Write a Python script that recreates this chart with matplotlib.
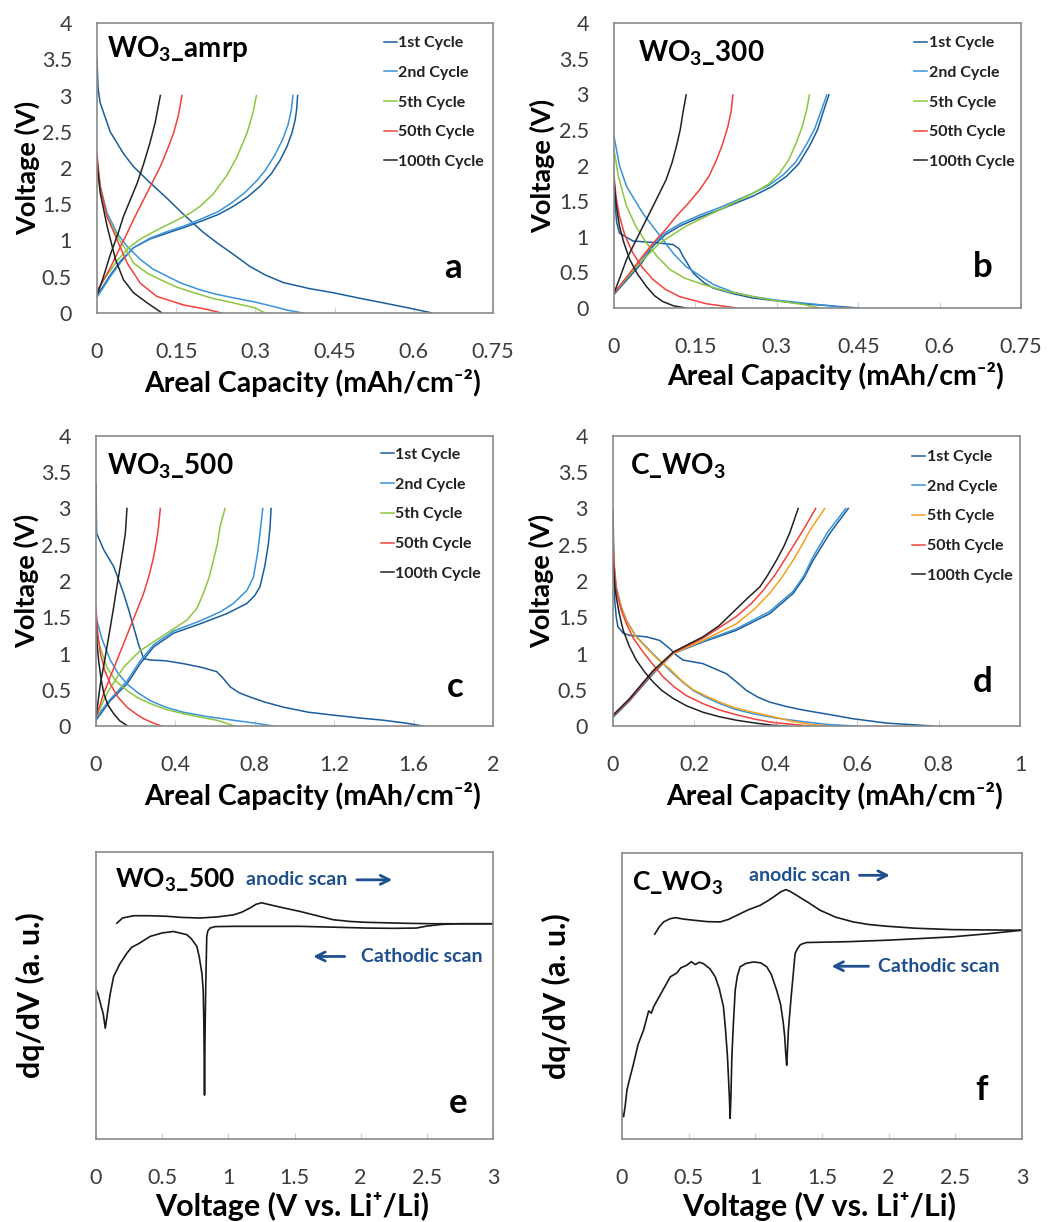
import matplotlib
matplotlib.use("Agg")
import matplotlib.pyplot as plt

plt.rcParams['font.family'] = ['Lato', 'DejaVu Sans']
plt.rcParams['mathtext.fontset'] = 'custom'
plt.rcParams['mathtext.rm'] = 'Lato'
plt.rcParams['mathtext.bf'] = 'Lato:bold'

# ---------------- data (capacity mAh/cm2, voltage V) ----------------
cycles = ["1st Cycle", "2nd Cycle", "5th Cycle", "50th Cycle", "100th Cycle"]
colors_abc = ["#1b5e9e", "#3b93d8", "#8dc63f", "#f0413c", "#222222"]
colors_d = ["#1b5e9e", "#3b93d8", "#f7a11a", "#f0413c", "#222222"]

# panel a: WO3_amrp
a_dis_1 = [(0, 3.5), (0.002, 3.1), (0.006, 2.9), (0.025, 2.5), (0.05, 2.2), (0.069, 2.02), (0.1, 1.8),
           (0.13, 1.6), (0.164, 1.36), (0.2, 1.12), (0.227, 0.97), (0.26, 0.8), (0.29, 0.64), (0.32, 0.52),
           (0.353, 0.42), (0.4, 0.34), (0.447, 0.28), (0.5, 0.2), (0.542, 0.14), (0.59, 0.07), (0.635, 0.0)]
a_ch_1 = [(0, 0.25), (0.01, 0.35), (0.025, 0.52), (0.045, 0.72), (0.069, 0.9), (0.1, 1.02), (0.132, 1.1),
          (0.165, 1.18), (0.195, 1.26), (0.23, 1.36), (0.258, 1.47), (0.285, 1.6), (0.309, 1.75), (0.33, 1.92),
          (0.347, 2.11), (0.36, 2.3), (0.369, 2.48), (0.375, 2.65), (0.378, 2.8), (0.38, 3.0)]
a_dis_2 = [(0, 2.1), (0.006, 1.75), (0.019, 1.38), (0.038, 1.1), (0.057, 0.92), (0.082, 0.74), (0.105, 0.61),
           (0.132, 0.51), (0.16, 0.41), (0.195, 0.32), (0.225, 0.26), (0.258, 0.21), (0.3, 0.15), (0.334, 0.09),
           (0.36, 0.04), (0.39, 0.0)]
a_ch_2 = [(0, 0.22), (0.01, 0.33), (0.025, 0.5), (0.045, 0.7), (0.069, 0.9), (0.1, 1.03), (0.132, 1.12),
          (0.165, 1.2), (0.195, 1.29), (0.23, 1.4), (0.255, 1.52), (0.28, 1.66), (0.302, 1.82), (0.32, 1.98),
          (0.337, 2.18), (0.352, 2.4), (0.362, 2.6), (0.368, 2.8), (0.371, 3.0)]
a_dis_5 = [(0, 2.07), (0.006, 1.7), (0.019, 1.33), (0.038, 1.06), (0.057, 0.85), (0.069, 0.69), (0.095, 0.55),
           (0.12, 0.46), (0.15, 0.36), (0.183, 0.28), (0.22, 0.2), (0.258, 0.14), (0.3, 0.07), (0.318, 0.0)]
a_ch_5 = [(0, 0.3), (0.015, 0.48), (0.038, 0.72), (0.06, 0.9), (0.082, 1.02), (0.115, 1.15), (0.151, 1.28),
          (0.175, 1.37), (0.195, 1.47), (0.22, 1.64), (0.246, 1.9), (0.265, 2.15), (0.284, 2.48), (0.295, 2.75),
          (0.302, 3.0)]
a_dis_50 = [(0, 2.2), (0.006, 1.75), (0.019, 1.33), (0.038, 1.01), (0.057, 0.69), (0.082, 0.41), (0.113, 0.23),
            (0.164, 0.11), (0.208, 0.05), (0.236, 0.0)]
a_ch_50 = [(0, 0.3), (0.012, 0.45), (0.025, 0.62), (0.04, 0.85), (0.057, 1.1), (0.072, 1.33), (0.088, 1.56),
           (0.104, 1.79), (0.12, 2.02), (0.133, 2.25), (0.145, 2.48), (0.154, 2.72), (0.161, 3.0)]
a_dis_100 = [(0, 2.07), (0.006, 1.66), (0.019, 1.2), (0.035, 0.74), (0.05, 0.46), (0.069, 0.28), (0.095, 0.14),
             (0.123, 0.0)]
a_ch_100 = [(0, 0.25), (0.01, 0.45), (0.025, 0.8), (0.04, 1.1), (0.05, 1.33), (0.063, 1.56), (0.076, 1.79),
            (0.088, 2.05), (0.1, 2.34), (0.11, 2.62), (0.12, 3.0)]

# panel b: WO3_300
b_dis_1 = [(0, 1.61), (0.005, 1.2), (0.01, 1.05), (0.035, 0.94), (0.072, 0.92), (0.109, 0.89), (0.12, 0.83),
           (0.127, 0.73), (0.146, 0.49), (0.165, 0.36), (0.183, 0.28), (0.22, 0.2), (0.256, 0.14), (0.3, 0.1),
           (0.348, 0.06), (0.4, 0.03), (0.45, 0.0)]
b_ch_1 = [(0, 0.19), (0.029, 0.44), (0.05, 0.62), (0.072, 0.87), (0.095, 1.03), (0.121, 1.15), (0.16, 1.28),
          (0.195, 1.38), (0.256, 1.57), (0.29, 1.7), (0.318, 1.85), (0.34, 2.02), (0.36, 2.27), (0.375, 2.5),
          (0.385, 2.74), (0.396, 2.99)]
b_dis_2 = [(0, 2.41), (0.01, 2.0), (0.023, 1.71), (0.053, 1.33), (0.09, 0.96), (0.11, 0.76), (0.133, 0.58),
           (0.183, 0.33), (0.22, 0.22), (0.256, 0.16), (0.3, 0.11), (0.348, 0.07), (0.4, 0.03), (0.43, 0.0)]
b_ch_2 = [(0, 0.2), (0.029, 0.47), (0.05, 0.66), (0.072, 0.9), (0.095, 1.06), (0.121, 1.18), (0.16, 1.31),
          (0.195, 1.41), (0.25, 1.59), (0.285, 1.72), (0.312, 1.87), (0.335, 2.05), (0.355, 2.3), (0.37, 2.52),
          (0.381, 2.75), (0.392, 2.99)]
b_dis_5 = [(0, 2.22), (0.008, 1.85), (0.023, 1.43), (0.04, 1.15), (0.06, 0.91), (0.08, 0.72), (0.103, 0.54),
           (0.13, 0.42), (0.164, 0.33), (0.21, 0.23), (0.256, 0.16), (0.3, 0.1), (0.348, 0.05), (0.38, 0.0)]
b_ch_5 = [(0, 0.21), (0.041, 0.58), (0.084, 0.91), (0.133, 1.15), (0.195, 1.38), (0.256, 1.61), (0.285, 1.74),
          (0.305, 1.89), (0.322, 2.08), (0.336, 2.32), (0.347, 2.55), (0.355, 2.78), (0.36, 2.99)]
b_dis_50 = [(0, 1.85), (0.004, 1.55), (0.01, 1.29), (0.02, 1.02), (0.035, 0.77), (0.052, 0.57), (0.072, 0.4),
            (0.095, 0.26), (0.121, 0.16), (0.17, 0.06), (0.226, 0.0)]
b_ch_50 = [(0, 0.21), (0.029, 0.49), (0.05, 0.7), (0.072, 0.91), (0.095, 1.1), (0.115, 1.29), (0.137, 1.47),
           (0.158, 1.66), (0.175, 1.85), (0.189, 2.08), (0.2, 2.3), (0.21, 2.55), (0.216, 2.77), (0.219, 2.99)]
b_dis_100 = [(0, 1.78), (0.004, 1.45), (0.01, 1.15), (0.018, 0.92), (0.029, 0.68), (0.043, 0.48), (0.06, 0.3),
             (0.075, 0.17), (0.09, 0.09), (0.11, 0.03), (0.133, 0.0)]
b_ch_100 = [(0, 0.21), (0.012, 0.45), (0.023, 0.68), (0.047, 1.05), (0.072, 1.43), (0.096, 1.8), (0.107, 2.04),
            (0.115, 2.27), (0.122, 2.5), (0.127, 2.74), (0.133, 2.99)]

# panel c: WO3_500
c_dis_1 = [(0, 3.35), (0.003, 2.66), (0.039, 2.43), (0.089, 2.2), (0.139, 1.83), (0.165, 1.6), (0.189, 1.37),
           (0.215, 1.12), (0.24, 0.93), (0.273, 0.91), (0.35, 0.9), (0.44, 0.86), (0.53, 0.81), (0.608, 0.75),
           (0.64, 0.66), (0.676, 0.54), (0.72, 0.46), (0.776, 0.4), (0.85, 0.33), (0.944, 0.26), (1.07, 0.19),
           (1.195, 0.15), (1.33, 0.11), (1.447, 0.08), (1.56, 0.04), (1.648, 0.0)]
c_ch_1 = [(0, 0.08), (0.072, 0.35), (0.156, 0.58), (0.223, 0.86), (0.29, 1.09), (0.39, 1.28), (0.525, 1.41),
          (0.659, 1.55), (0.76, 1.69), (0.8, 1.8), (0.826, 1.92), (0.85, 2.2), (0.868, 2.5), (0.877, 2.75),
          (0.882, 3.0)]
c_dis_2 = [(0, 1.5), (0.03, 1.2), (0.072, 0.91), (0.11, 0.73), (0.156, 0.58), (0.21, 0.46), (0.273, 0.35),
           (0.35, 0.26), (0.44, 0.19), (0.56, 0.13), (0.69, 0.08), (0.8, 0.04), (0.894, 0.0)]
c_ch_2 = [(0, 0.12), (0.072, 0.37), (0.156, 0.62), (0.223, 0.9), (0.29, 1.12), (0.39, 1.31), (0.525, 1.45),
          (0.63, 1.58), (0.692, 1.69), (0.76, 1.87), (0.793, 2.05), (0.815, 2.4), (0.83, 2.75), (0.84, 3.0)]
c_dis_5 = [(0, 1.27), (0.025, 1.05), (0.055, 0.81), (0.1, 0.62), (0.156, 0.49), (0.21, 0.39), (0.273, 0.31),
           (0.35, 0.23), (0.44, 0.17), (0.53, 0.12), (0.608, 0.08), (0.7, 0.0)]
c_ch_5 = [(0, 0.12), (0.055, 0.45), (0.139, 0.81), (0.223, 1.04), (0.357, 1.28), (0.458, 1.46), (0.51, 1.63),
          (0.541, 1.83), (0.57, 2.05), (0.592, 2.29), (0.612, 2.52), (0.625, 2.75), (0.65, 3.0)]
c_dis_50 = [(0, 1.64), (0.008, 1.3), (0.022, 1.0), (0.045, 0.76), (0.072, 0.58), (0.11, 0.4), (0.156, 0.26),
            (0.2, 0.17), (0.24, 0.1), (0.29, 0.04), (0.33, 0.0)]
c_ch_50 = [(0, 0.12), (0.039, 0.45), (0.072, 0.68), (0.106, 0.91), (0.14, 1.14), (0.173, 1.37), (0.207, 1.6),
           (0.24, 1.83), (0.268, 2.08), (0.29, 2.33), (0.305, 2.55), (0.315, 2.75), (0.324, 3.0)]
c_dis_100 = [(0, 1.41), (0.005, 1.15), (0.013, 0.91), (0.025, 0.66), (0.039, 0.45), (0.06, 0.29), (0.089, 0.17),
             (0.12, 0.07), (0.16, 0.0)]
c_ch_100 = [(0, 0.12), (0.022, 0.58), (0.04, 0.85), (0.055, 1.09), (0.072, 1.36), (0.089, 1.64), (0.105, 1.92),
            (0.122, 2.2), (0.136, 2.44), (0.148, 2.66), (0.156, 3.0)]

# panel d: C_WO3
d_dis_1 = [(0, 2.98), (0.002, 2.3), (0.004, 1.74), (0.008, 1.5), (0.012, 1.37), (0.025, 1.28), (0.041, 1.25),
           (0.082, 1.23), (0.115, 1.18), (0.139, 1.07), (0.155, 0.98), (0.172, 0.91), (0.221, 0.86),
           (0.279, 0.72), (0.305, 0.6), (0.328, 0.49), (0.355, 0.4), (0.385, 0.33), (0.425, 0.27), (0.467, 0.22),
           (0.53, 0.16), (0.59, 0.1), (0.672, 0.04), (0.787, 0.0)]
d_ch_1 = [(0, 0.12), (0.041, 0.35), (0.098, 0.72), (0.148, 1.0), (0.221, 1.16), (0.303, 1.32), (0.385, 1.55),
          (0.443, 1.83), (0.47, 2.05), (0.492, 2.29), (0.533, 2.66), (0.578, 3.0)]
d_dis_2 = [(0, 2.66), (0.003, 2.2), (0.008, 1.92), (0.02, 1.65), (0.033, 1.46), (0.055, 1.25), (0.082, 1.09),
           (0.11, 0.93), (0.139, 0.77), (0.168, 0.62), (0.197, 0.49), (0.23, 0.39), (0.262, 0.31), (0.3, 0.23),
           (0.344, 0.17), (0.4, 0.11), (0.467, 0.06), (0.53, 0.02), (0.598, 0.0)]
d_ch_2 = [(0, 0.13), (0.041, 0.37), (0.098, 0.74), (0.148, 1.01), (0.221, 1.17), (0.303, 1.34), (0.385, 1.58),
          (0.443, 1.86), (0.47, 2.08), (0.49, 2.32), (0.528, 2.68), (0.572, 3.0)]
d_dis_5 = [(0, 2.59), (0.003, 2.2), (0.008, 1.9), (0.02, 1.64), (0.033, 1.45), (0.055, 1.24), (0.082, 1.08),
           (0.11, 0.92), (0.139, 0.79), (0.168, 0.63), (0.197, 0.5), (0.23, 0.41), (0.262, 0.33), (0.3, 0.25),
           (0.344, 0.19), (0.4, 0.12), (0.443, 0.06), (0.49, 0.02), (0.534, 0.0)]
d_ch_5 = [(0, 0.14), (0.041, 0.37), (0.098, 0.74), (0.148, 1.0), (0.221, 1.18), (0.303, 1.41), (0.345, 1.6),
          (0.385, 1.83), (0.415, 2.05), (0.443, 2.29), (0.465, 2.5), (0.484, 2.7), (0.52, 3.0)]
d_dis_50 = [(0, 2.56), (0.003, 2.2), (0.008, 1.87), (0.02, 1.6), (0.033, 1.41), (0.05, 1.21), (0.074, 1.02),
            (0.098, 0.85), (0.123, 0.68), (0.15, 0.54), (0.18, 0.42), (0.22, 0.31), (0.262, 0.22), (0.3, 0.16),
            (0.344, 0.1), (0.39, 0.05), (0.426, 0.03), (0.484, 0.0)]
d_ch_50 = [(0, 0.14), (0.041, 0.36), (0.098, 0.75), (0.148, 1.01), (0.221, 1.21), (0.303, 1.51), (0.34, 1.69),
           (0.369, 1.87), (0.4, 2.1), (0.426, 2.33), (0.467, 2.7), (0.498, 3.0)]
d_dis_100 = [(0, 2.33), (0.004, 1.95), (0.008, 1.78), (0.015, 1.56), (0.025, 1.32), (0.04, 1.1), (0.057, 0.91),
             (0.077, 0.75), (0.098, 0.61), (0.12, 0.49), (0.148, 0.38), (0.18, 0.28), (0.221, 0.19),
             (0.26, 0.13), (0.303, 0.08), (0.35, 0.04), (0.393, 0.01), (0.426, 0.0)]
d_ch_100 = [(0, 0.15), (0.041, 0.38), (0.098, 0.76), (0.148, 1.02), (0.221, 1.23), (0.26, 1.38), (0.295, 1.57),
            (0.33, 1.76), (0.361, 1.92), (0.38, 2.08), (0.402, 2.29), (0.42, 2.48), (0.434, 2.66), (0.455, 3.0)]

# dq/dV curves (voltage V, arbitrary units)
e_anodic = [(0.158, 75.2), (0.2, 77.0), (0.284, 77.8), (0.4, 77.8), (0.536, 77.6), (0.65, 77.2), (0.787, 77.0),
            (0.92, 77.4), (1.04, 78.1), (1.1, 79.0), (1.164, 80.5), (1.21, 81.8), (1.252, 82.3), (1.315, 81.6),
            (1.42, 80.5), (1.541, 79.3), (1.67, 77.8), (1.793, 76.4), (1.92, 75.8), (2.044, 75.5),
            (2.3, 75.2), (2.547, 75.0), (3.0, 75.0)]
e_cathodic = [(3.0, 75.0), (2.75, 75.0), (2.622, 74.8), (2.5, 74.2), (2.421, 73.5), (2.25, 73.4), (2.044, 73.5),
              (1.8, 73.8), (1.541, 74.1), (1.3, 74.1), (1.04, 74.1), (0.9, 74.0), (0.862, 73.5), (0.845, 72.5),
              (0.837, 70.6), (0.83, 55.0), (0.825, 40.3), (0.82, 15.3), (0.815, 40.3), (0.81, 52.0),
              (0.8, 57.8), (0.78, 63.5), (0.762, 67.1), (0.72, 69.8), (0.686, 71.2), (0.586, 72.3),
              (0.5, 71.8), (0.41, 70.6), (0.32, 68.0), (0.27, 66.8), (0.234, 64.8), (0.18, 61.0),
              (0.133, 56.6), (0.105, 50.0), (0.083, 42.7), (0.07, 38.6), (0.055, 43.5), (0.033, 47.3),
              (0.015, 50.5), (0.0, 52.0)]
f_anodic = [(0.245, 71.6), (0.28, 74.2), (0.312, 75.9), (0.36, 77.0), (0.4, 77.4), (0.46, 76.9), (0.537, 76.5),
            (0.64, 76.0), (0.736, 75.9), (0.8, 76.8), (0.861, 78.2), (0.95, 80.2), (1.036, 81.7), (1.09, 83.2),
            (1.136, 84.6), (1.19, 86.4), (1.228, 87.2), (1.26, 86.6), (1.31, 85.2), (1.4, 82.6),
            (1.485, 80.0), (1.6, 77.6), (1.734, 75.9), (1.85, 75.0), (1.984, 74.4), (2.2, 73.7),
            (2.483, 73.2), (3.0, 73.0)]
f_cathodic = [(3.0, 73.0), (2.75, 71.8), (2.483, 70.7), (2.2, 70.0), (1.984, 69.5), (1.7, 69.0), (1.385, 68.7),
              (1.35, 68.2), (1.335, 67.8), (1.315, 66.5), (1.298, 64.8), (1.285, 58.0), (1.273, 52.0),
              (1.26, 45.0), (1.248, 38.1), (1.24, 30.0), (1.235, 25.8), (1.228, 29.9), (1.22, 36.0),
              (1.21, 40.4), (1.19, 47.0), (1.16, 52.0), (1.12, 57.5), (1.086, 60.2), (1.04, 61.6),
              (0.986, 61.9), (0.93, 61.4), (0.886, 60.2), (0.865, 57.0), (0.849, 52.0), (0.835, 40.0),
              (0.824, 28.8), (0.817, 15.0), (0.811, 7.2), (0.805, 15.0), (0.791, 28.8), (0.775, 39.0),
              (0.761, 46.2), (0.73, 52.5), (0.699, 56.7), (0.66, 59.5), (0.611, 61.3), (0.58, 61.8),
              (0.55, 61.0), (0.52, 62.0), (0.487, 60.8), (0.44, 59.8), (0.41, 58.0), (0.362, 56.7),
              (0.3, 51.5), (0.237, 46.2), (0.22, 44.0), (0.2, 44.8), (0.162, 38.1), (0.12, 33.0),
              (0.087, 26.4), (0.06, 21.5), (0.037, 17.1), (0.025, 12.0), (0.012, 7.8), (0.0, 9.0)]

x_ticks_ab = [0, 0.15, 0.3, 0.45, 0.6, 0.75]
x_labels_ab = ["0", "0.15", "0.3", "0.45", "0.6", "0.75"]
x_ticks_c = [0, 0.4, 0.8, 1.2, 1.6, 2]
x_labels_c = ["0", "0.4", "0.8", "1.2", "1.6", "2"]
x_ticks_d = [0, 0.2, 0.4, 0.6, 0.8, 1]
x_labels_d = ["0", "0.2", "0.4", "0.6", "0.8", "1"]
x_ticks_ef = [0, 0.5, 1, 1.5, 2, 2.5, 3]
x_labels_ef = ["0", "0.5", "1", "1.5", "2", "2.5", "3"]
v_ticks = [0, 0.5, 1, 1.5, 2, 2.5, 3, 3.5, 4]
v_labels = ["0", "0.5", "1", "1.5", "2", "2.5", "3", "3.5", "4"]

# ---------------- figure ----------------
W, H = 1053, 1222
fig = plt.figure(figsize=(W / 100, H / 100), dpi=100)


def box(l, t, r, b):
    return [l / W, 1 - b / H, (r - l) / W, (b - t) / H]


def style(ax, xt, xl, xmax):
    for s in ax.spines.values():
        s.set_color("#8a8a8a")
        s.set_linewidth(1.2)
    ax.set_xlim(0, xmax)
    ax.set_xticks(xt)
    ax.set_xticklabels(xl)
    ax.tick_params(axis="x", direction="in", length=4, color="#d0d0d0", pad=21,
                   labelsize=15.5, labelcolor="#3c3c3c")
    ax.tick_params(axis="y", length=0, pad=18, labelsize=15.5, labelcolor="#3c3c3c")


def unzip(pts):
    return [p[0] for p in pts], [p[1] for p in pts]


gcd_panels = [
    (box(97, 23, 493, 313), r"WO$_\mathbf{3}$_amrp", "a", x_ticks_ab, x_labels_ab, 0.75, colors_abc,
     [(a_dis_1, a_ch_1), (a_dis_2, a_ch_2), (a_dis_5, a_ch_5), (a_dis_50, a_ch_50), (a_dis_100, a_ch_100)],
     (0.025, 0.91), (0.90, 0.155), (0.725, 0.955)),
    (box(614, 23, 1021, 308), r"WO$_\mathbf{3}$_300", "b", x_ticks_ab, x_labels_ab, 0.75, colors_abc,
     [(b_dis_1, b_ch_1), (b_dis_2, b_ch_2), (b_dis_5, b_ch_5), (b_dis_50, b_ch_50), (b_dis_100, b_ch_100)],
     (0.059, 0.895), (0.907, 0.144), (0.738, 0.954)),
    (box(96, 436, 493, 726), r"WO$_\mathbf{3}$_500", "c", x_ticks_c, x_labels_c, 2, colors_abc,
     [(c_dis_1, c_ch_1), (c_dis_2, c_ch_2), (c_dis_5, c_ch_5), (c_dis_50, c_ch_50), (c_dis_100, c_ch_100)],
     (0.028, 0.895), (0.904, 0.134), (0.718, 0.959)),
    (box(613, 436, 1020, 726), r"C_WO$_\mathbf{3}$", "d", x_ticks_d, x_labels_d, 1, colors_d,
     [(d_dis_1, d_ch_1), (d_dis_2, d_ch_2), (d_dis_5, d_ch_5), (d_dis_50, d_ch_50), (d_dis_100, d_ch_100)],
     (0.042, 0.895), (0.909, 0.152), (0.735, 0.952)),
]

for rect, title, letter, xt, xl, xmax, cols, curves, tpos, lpos, legpos in gcd_panels:
    ax = fig.add_axes(rect)
    handles = []
    for (dis, ch), c, lab in zip(curves, cols, cycles):
        x, y = unzip(dis)
        h, = ax.plot(x, y, color=c, lw=1.1, label=lab)
        x, y = unzip(ch)
        ax.plot(x, y, color=c, lw=1.1)
        handles.append(h)
    ax.set_ylim(0, 4)
    ax.set_yticks(v_ticks)
    ax.set_yticklabels(v_labels)
    style(ax, xt, xl, xmax)
    ax.text(tpos[0], tpos[1], title, transform=ax.transAxes, fontsize=20, fontweight="bold", va="center")
    ax.text(lpos[0], lpos[1], letter, transform=ax.transAxes, fontsize=25, fontweight="bold",
            ha="center", va="center")
    leg = ax.legend(handles=handles, loc="upper left", bbox_to_anchor=legpos, frameon=False,
                    prop={"weight": "bold", "size": 11.5}, handlelength=0.8, handletextpad=0.1,
                    labelspacing=0.97, borderpad=0, borderaxespad=0)
    for t in leg.get_texts():
        t.set_color("#222222")
    ax.set_ylabel("Voltage (V)", fontsize=19.5, fontweight="bold")
    ax.yaxis.set_label_coords(-0.175, 0.5)
    ax.yaxis.label.set_va("center")
    ax.set_xlabel("Areal Capacity (mAh/cm\u207b\u00b2)", fontsize=20.5, fontweight="bold")
    ax.xaxis.set_label_coords(0.545, -0.24)
    ax.xaxis.label.set_va("center")

arrow_blue = "#1f4f8f"
dq_panels = [
    (box(96, 852, 493, 1139), r"WO$_\mathbf{3}$_500", "e", e_anodic, e_cathodic,
     (0.049, 0.9), (0.912, 0.125), (1.135, 90.3, 1.95, 2.26), (2.0, 63.6, 1.90, 1.62)),
    (box(622, 853, 1022, 1139), r"C_WO$_\mathbf{3}$", "f", f_anodic, f_cathodic,
     (0.025, 0.893), (0.9, 0.17), (0.95, 92.2, 1.76, 2.03), (1.92, 60.4, 1.87, 1.55)),
]

for rect, title, letter, an, ca, tpos, lpos, an_txt, ca_txt in dq_panels:
    ax = fig.add_axes(rect)
    x, y = unzip(an)
    ax.plot(x, y, color="#1a1a1a", lw=1.2)
    x, y = unzip(ca)
    ax.plot(x, y, color="#1a1a1a", lw=1.2)
    ax.set_ylim(0, 100)
    ax.set_yticks([])
    style(ax, x_ticks_ef, x_labels_ef, 3)
    ax.text(tpos[0], tpos[1], title, transform=ax.transAxes, fontsize=19, fontweight="bold", va="center")
    ax.text(lpos[0], lpos[1], letter, transform=ax.transAxes, fontsize=25, fontweight="bold",
            ha="center", va="center")
    ax.text(an_txt[0], an_txt[1], "anodic scan", color=arrow_blue, fontsize=14, fontweight="bold", va="center")
    ax.annotate("", xy=(an_txt[3], an_txt[1]), xytext=(an_txt[2], an_txt[1]),
                arrowprops=dict(arrowstyle="->", color=arrow_blue, lw=2, mutation_scale=16))
    ax.text(ca_txt[0], ca_txt[1], "Cathodic scan", color=arrow_blue, fontsize=14, fontweight="bold",
            va="center")
    ax.annotate("", xy=(ca_txt[3], ca_txt[1]), xytext=(ca_txt[2], ca_txt[1]),
                arrowprops=dict(arrowstyle="->", color=arrow_blue, lw=2, mutation_scale=16))
    ax.set_ylabel("dq/dV (a. u.)", fontsize=22, fontweight="bold")
    ax.yaxis.set_label_coords(-0.165, 0.5)
    ax.yaxis.label.set_va("center")
    ax.set_xlabel("Voltage (V vs. Li\u207a/Li)", fontsize=22, fontweight="bold")
    ax.xaxis.set_label_coords(0.494, -0.235)
    ax.xaxis.label.set_va("center")

fig.savefig("out.png", dpi=100)
